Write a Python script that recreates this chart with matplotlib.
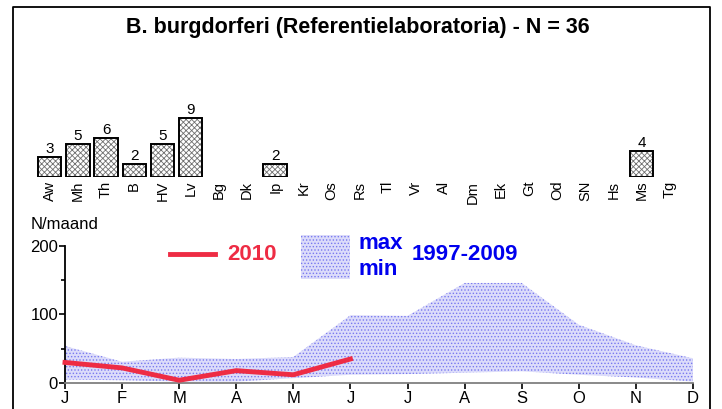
import matplotlib.pyplot as plt
from matplotlib.patches import Rectangle
from matplotlib.lines import Line2D

plt.rcParams['font.family'] = ['Liberation Sans', 'DejaVu Sans']
plt.rcParams['hatch.linewidth'] = 0.6

# data
regions = ['Aw', 'Mh', 'Th', 'B', 'HV', 'Lv', 'Bg', 'Dk', 'Ip', 'Kr', 'Os', 'Rs',
           'Tl', 'Vr', 'Al', 'Dm', 'Ek', 'Gt', 'Od', 'SN', 'Hs', 'Ms', 'Tg']
counts = [3, 5, 6, 2, 5, 9, 0, 0, 2, 0, 0, 0, 0, 0, 0, 0, 0, 0, 0, 0, 0, 4, 0]
months = ['J', 'F', 'M', 'A', 'M', 'J', 'J', 'A', 'S', 'O', 'N', 'D']
band_max = [54, 31, 37, 35, 38, 99, 98, 146, 146, 85, 55, 36]
band_min = [5, 4, 2, 2, 7, 12, 13, 15, 17, 12, 8, 2]
y2010 = [30, 22, 4, 18, 12, 35]

fig = plt.figure(figsize=(7.22, 4.09), dpi=100)

# outer frame
fig.add_artist(Line2D([0.018, 0.018, 0.9834, 0.9834], [0, 0.983, 0.983, 0],
                      transform=fig.transFigure, color='black', lw=1.3))

fig.text(0.496, 0.933, 'B. burgdorferi (Referentielaboratoria) - N = 36',
         ha='center', va='center', fontsize=15.5, fontweight='bold')

# bar chart per region (regions without cases get no bar)
axb = fig.add_axes([0.0493, 0.568, 0.8978, 0.1589])
xs = list(range(len(regions)))
bx = [x for x, c in zip(xs, counts) if c > 0]
bc = [c for c in counts if c > 0]
axb.bar(bx, bc, width=0.83, color='white', hatch='xxxxxx', edgecolor='#707070', lw=0)
axb.bar(bx, bc, width=0.83, fill=False, edgecolor='black', lw=1.4)
for x, c in zip(bx, bc):
    axb.text(x, c + 0.15, str(c), ha='center', va='bottom', fontsize=11)
axb.set_xlim(-0.5, len(regions) - 0.5)
axb.set_ylim(0, 10)
axb.set_xticks(xs)
axb.set_xticklabels(regions, rotation=90, fontsize=10.5)
axb.tick_params(axis='x', length=0, pad=3)
axb.set_yticks([])
for s in axb.spines.values():
    s.set_visible(False)

# monthly line chart
ax = fig.add_axes([0.0900, 0.0636, 0.8698, 0.3350])
mx = list(range(len(months)))
ax.fill_between(mx, band_min, band_max, facecolor='#DCDCFA', hatch='.....',
                edgecolor='#7878F0', lw=0)
ax.plot(range(len(y2010)), y2010, color='#EE2C44', lw=3.5, clip_on=False, zorder=3)
ax.set_xlim(0, 11)
ax.set_ylim(0, 200)
ax.set_xticks(mx)
ax.set_xticklabels(months, fontsize=12)
ax.set_yticks([0, 100, 200])
ax.set_yticks([50, 150], minor=True)
ax.tick_params(axis='y', length=4, width=1.2, labelsize=12, pad=1)
ax.tick_params(axis='y', which='minor', length=3, width=1.2)
ax.tick_params(axis='x', length=4, width=1.2, pad=2)
ax.spines['top'].set_visible(False)
ax.spines['right'].set_visible(False)
ax.spines['left'].set_linewidth(1.3)
ax.spines['bottom'].set_color('#808080')
ax.spines['bottom'].set_linewidth(1.3)
fig.text(0.043, 0.452, 'N/maand', ha='left', va='center', fontsize=12)

# legend
ax.plot([1.84, 2.63], [188, 188], color='#EE2C44', lw=3.5, clip_on=False)
ax.text(2.85, 188, '2010', color='#EE2C44', fontsize=16, fontweight='bold', va='center')
ax.add_patch(Rectangle((4.13, 152), 0.86, 64, facecolor='#DCDCFA', hatch='.....',
                       edgecolor='#7878F0', lw=0, clip_on=False))
ax.text(5.15, 204, 'max', color='#0000EE', fontsize=16, fontweight='bold', va='center')
ax.text(5.15, 166, 'min', color='#0000EE', fontsize=16, fontweight='bold', va='center')
ax.text(6.07, 188, '1997-2009', color='#0000EE', fontsize=16, fontweight='bold', va='center')

fig.savefig('out.png', dpi=100)
